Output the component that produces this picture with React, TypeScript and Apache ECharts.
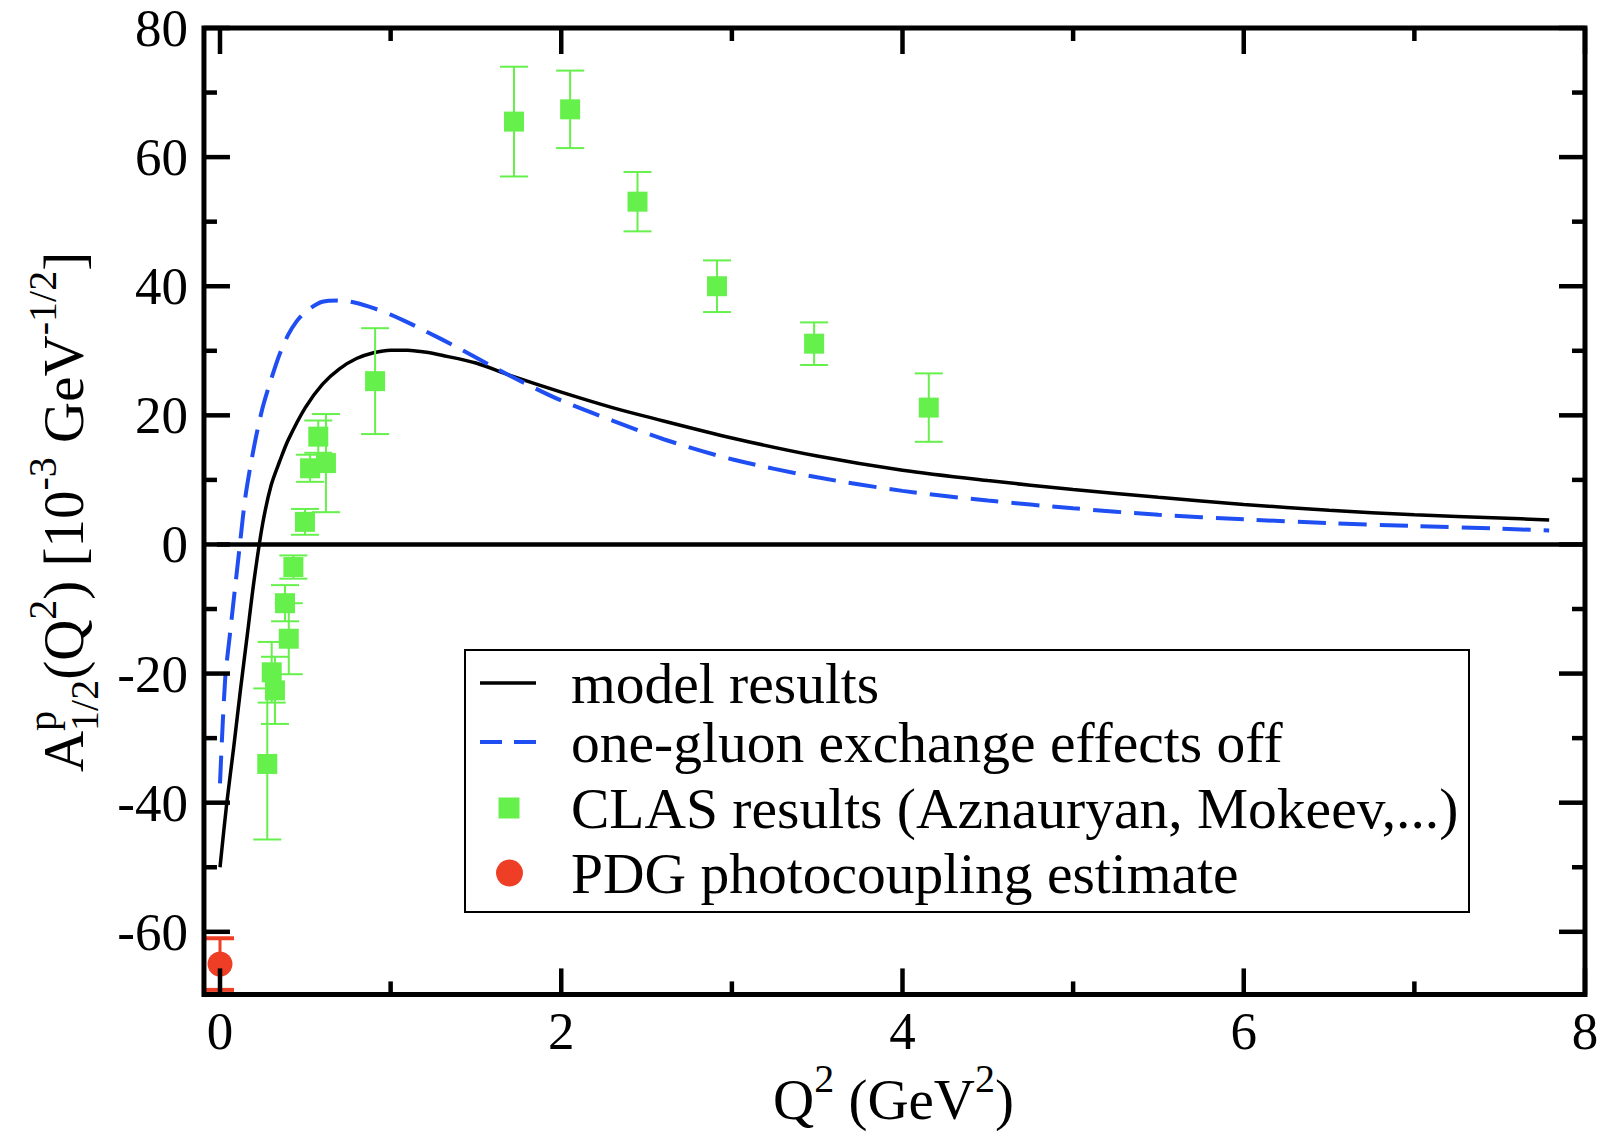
import React, { useEffect, useRef } from "react";
import * as echarts from "echarts";

// ---------- data ----------
const modelQ2 = [0, 0.04, 0.08, 0.12, 0.16, 0.2, 0.25, 0.3, 0.35, 0.4, 0.5, 0.6, 0.7, 0.8, 0.9, 1.0, 1.1, 1.2, 1.3, 1.5, 1.7, 2.0, 2.3, 2.5, 3.0, 3.5, 4.0, 4.5, 5.0, 5.5, 6.0, 6.5, 7.0, 7.5, 7.79];
const modelA = [-50, -40, -31.5, -22.5, -14, -5.5, 3.2, 9.2, 12.9, 16.2, 21.2, 24.8, 27.2, 28.8, 29.7, 30.1, 30.1, 29.8, 29.3, 28.1, 26.2, 23.6, 21.2, 19.8, 16.5, 13.7, 11.5, 9.9, 8.5, 7.3, 6.2, 5.3, 4.6, 4.1, 3.8];

const ogeQ2 = [0, 0.03, 0.06, 0.09, 0.12, 0.15, 0.2, 0.25, 0.3, 0.35, 0.4, 0.45, 0.5, 0.6, 0.7, 0.8, 0.9, 1.0, 1.1, 1.2, 1.4, 1.6, 1.8, 2.0, 2.3, 2.6, 3.0, 3.5, 4.0, 4.5, 5.0, 5.5, 6.0, 6.5, 7.0, 7.5, 7.79];
const ogeA = [-37, -21, -13.5, -6.3, 0.8, 7.6, 15.2, 21.2, 25.6, 29.5, 32.5, 34.6, 36.0, 37.6, 37.8, 37.4, 36.6, 35.6, 34.4, 33.1, 30.4, 27.5, 24.8, 22.3, 19.2, 16.3, 13.2, 10.4, 8.3, 6.8, 5.6, 4.6, 3.9, 3.3, 2.85, 2.45, 2.15];

const clasQ2 = [0.277, 0.303, 0.322, 0.381, 0.403, 0.43, 0.498, 0.528, 0.576, 0.621, 0.909, 1.723, 2.052, 2.447, 2.913, 3.482, 4.154];
const clasA = [-34.0, -19.8, -22.6, -9.1, -14.6, -3.5, 3.5, 11.8, 16.7, 12.6, 25.3, 65.5, 67.4, 53.1, 40.0, 31.1, 21.2];
const clasErr = [11.7, 4.7, 5.2, 2.8, 5.5, 1.8, 2.0, 2.1, 2.5, 7.6, 8.2, 8.5, 6.0, 4.6, 4.0, 3.3, 5.3];

const pdgQ2 = [0];
const pdgA = [-65];
const pdgErr = [4];

// tick values (major ticks carry labels)
const xMajorTicks = [0, 2, 4, 6, 8];
const xMinorTicks = [1, 3, 5, 7];
const yMajorTicks = [-60, -40, -20, 0, 20, 40, 60, 80];
const yMinorTicks = [-50, -30, -10, 10, 30, 50, 70];

// axis ranges: labelled axis range, and the plot frame's full extent
const xMin = 0;
const xMax = 8;
const xStep = 2;
const yMin = -60;
const yMax = 80;
const yStep = 20;
const xFrameMin = -0.094;
const yFrameMin = -69.7;

const legendLabels = [
  "model results",
  "one-gluon exchange effects off",
  "CLAS results (Aznauryan, Mokeev,...)",
  "PDG photocoupling estimate",
];

// ---------- styles ----------
const FONT = '"Liberation Serif", "Times New Roman", Times, serif';
const GREEN = "#66f04c";
const RED = "#ee3f26";
const BLUE = "#1f4ff2";
const MAIN = 57;
const LEG = 57.5;
const SCR = 40;
const SUP = 27;
const SUB = 15;
const CENTRAL = 0.3375;

// layout (pixels)
const GRID_LEFT = 220; // x = 0
const GRID_RIGHT_EDGE = 1585; // x = 8
const GRID_TOP = 28; // y = 80
const GRID_BOTTOM_EDGE = 931.8; // y = -60
const FRAME_LEFT = 204;
const FRAME_BOTTOM = 994.5;
const MAJOR_LEN = 26;
const MINOR_LEN = 13;
const TICK_W = 4.5;

function measure(text: string, size: number): number {
  const c = document.createElement("canvas").getContext("2d");
  if (!c) return text.length * size * 0.5;
  c.font = `${size}px "Liberation Serif"`;
  return c.measureText(text).width;
}

type Piece = { t: string; s: number; dy: number };
function buildRun(segments: Piece[][]) {
  const children: any[] = [];
  let x = 0;
  segments.forEach((seg) => {
    let adv = 0;
    seg.forEach((p) => {
      children.push({
        type: "text",
        x,
        y: p.dy - CENTRAL * p.s,
        style: { text: p.t, fontSize: p.s, fontFamily: FONT, fill: "#000", align: "left", verticalAlign: "middle" },
      });
      adv = Math.max(adv, measure(p.t, p.s));
    });
    x += adv;
  });
  return { children, width: x };
}

function errRender(color: string, lw: number, capLw: number, capW: number) {
  return (params: any, api: any) => {
    const x = api.value(0);
    const lo = api.value(1);
    const hi = api.value(2);
    const pHi = api.coord([x, hi]);
    const pLo = api.coord([x, lo]);
    return {
      type: "group",
      children: [
        { type: "line", shape: { x1: pHi[0], y1: pHi[1], x2: pLo[0], y2: pLo[1] }, style: { stroke: color, lineWidth: lw } },
        { type: "line", shape: { x1: pHi[0] - capW / 2, y1: pHi[1], x2: pHi[0] + capW / 2, y2: pHi[1] }, style: { stroke: color, lineWidth: capLw } },
        { type: "line", shape: { x1: pLo[0] - capW / 2, y1: pLo[1], x2: pLo[0] + capW / 2, y2: pLo[1] }, style: { stroke: color, lineWidth: capLw } },
      ],
    };
  };
}

export default function App() {
  const ref = useRef<HTMLDivElement>(null);
  useEffect(() => {
    if (!ref.current) return;
    const chart = echarts.init(ref.current, undefined, { renderer: "svg" });

    const yTitle = buildRun([
      [{ t: "A", s: MAIN, dy: 0 }],
      [{ t: "p", s: SCR, dy: -SUP }, { t: "1/2", s: SCR, dy: SUB }],
      [{ t: "(Q", s: MAIN, dy: 0 }],
      [{ t: "2", s: SCR, dy: -SUP }],
      [{ t: ") [10", s: MAIN, dy: 0 }],
      [{ t: "-3", s: SCR, dy: -SUP }],
      [{ t: " GeV", s: MAIN, dy: 0 }],
      [{ t: "-1/2", s: SCR, dy: -SUP }],
      [{ t: "]", s: MAIN, dy: 0 }],
    ]);
    const xTitle = buildRun([
      [{ t: "Q", s: MAIN, dy: 0 }],
      [{ t: "2", s: SCR, dy: -SUP }],
      [{ t: " (GeV", s: MAIN, dy: 0 }],
      [{ t: "2", s: SCR, dy: -SUP }],
      [{ t: ")", s: MAIN, dy: 0 }],
    ]);

    const rowsY = [683, 742, 808, 873];
    const legendGraphics: any[] = [
      { type: "rect", z: 100, shape: { x: 465, y: 650, width: 1004, height: 262 }, style: { fill: "#fff", stroke: "#000", lineWidth: 2 } },
      { type: "line", z: 101, shape: { x1: 480, y1: rowsY[0], x2: 536, y2: rowsY[0] }, style: { stroke: "#000", lineWidth: 3.5 } },
      { type: "line", z: 101, shape: { x1: 480, y1: rowsY[1], x2: 536, y2: rowsY[1] }, style: { stroke: BLUE, lineWidth: 4, lineDash: [22, 12] } },
      { type: "rect", z: 101, shape: { x: 498.5, y: rowsY[2] - 10.5, width: 21, height: 21 }, style: { fill: GREEN } },
      { type: "circle", z: 101, shape: { cx: 509.5, cy: rowsY[3], r: 13.5 }, style: { fill: RED } },
      ...legendLabels.map((t, i) => ({
        type: "text",
        z: 101,
        x: 571,
        y: rowsY[i],
        style: { text: t, fontSize: LEG, fontFamily: FONT, fill: "#000", align: "left", verticalAlign: "middle" },
      })),
    ];

    const option: any = {
      animation: false,
      backgroundColor: "#fff",
      grid: {
        left: GRID_LEFT,
        top: GRID_TOP,
        width: GRID_RIGHT_EDGE - GRID_LEFT,
        height: GRID_BOTTOM_EDGE - GRID_TOP,
        show: false,
        containLabel: false,
      },
      xAxis: {
        type: "value",
        min: xMin,
        max: xMax,
        interval: xStep,
        position: "bottom",
        offset: FRAME_BOTTOM - GRID_BOTTOM_EDGE,
        axisLine: { show: false, onZero: false },
        axisTick: { show: false },
        splitLine: { show: false },
        axisLabel: { show: true, fontFamily: FONT, fontSize: 53, color: "#000", margin: 10, showMinLabel: true, showMaxLabel: true, hideOverlap: false },
      },
      yAxis: {
        type: "value",
        min: yMin,
        max: yMax,
        interval: yStep,
        position: "left",
        offset: GRID_LEFT - FRAME_LEFT,
        axisLine: { show: false, onZero: false },
        axisTick: { show: false },
        splitLine: { show: false },
        axisLabel: { show: true, fontFamily: FONT, fontSize: 53, color: "#000", margin: 16, showMinLabel: true, showMaxLabel: true, hideOverlap: false },
      },
      series: [
        {
          type: "line",
          data: [[xFrameMin, 0], [xMax, 0]],
          showSymbol: false,
          clip: false,
          silent: true,
          lineStyle: { color: "#000", width: 4.5 },
          z: 2,
        },
        {
          name: legendLabels[0],
          type: "line",
          data: modelQ2.map((q, i) => [q, modelA[i]]),
          showSymbol: false,
          smooth: 0.3,
          clip: false,
          lineStyle: { color: "#000", width: 3.5 },
          z: 3,
        },
        {
          name: legendLabels[1],
          type: "line",
          data: ogeQ2.map((q, i) => [q, ogeA[i]]),
          showSymbol: false,
          smooth: 0.3,
          clip: false,
          lineStyle: { color: BLUE, width: 4, type: [28, 13] },
          z: 3,
        },
        {
          type: "custom",
          data: clasQ2.map((q, i) => [q, clasA[i] - clasErr[i], clasA[i] + clasErr[i]]),
          encode: { x: 0, y: [1, 2] },
          renderItem: errRender(GREEN, 2, 2, 28),
          clip: false,
          z: 4,
        },
        {
          name: legendLabels[2],
          type: "scatter",
          data: clasQ2.map((q, i) => [q, clasA[i]]),
          symbol: "rect",
          symbolSize: 20,
          clip: false,
          itemStyle: { color: GREEN, opacity: 1 },
          z: 5,
        },
        {
          type: "custom",
          data: pdgQ2.map((q, i) => [q, pdgA[i] - pdgErr[i], pdgA[i] + pdgErr[i]]),
          encode: { x: 0, y: [1, 2] },
          renderItem: errRender(RED, 3, 4, 28),
          clip: false,
          z: 4,
        },
        {
          name: legendLabels[3],
          type: "scatter",
          data: pdgQ2.map((q, i) => [q, pdgA[i]]),
          symbol: "circle",
          symbolSize: 25,
          clip: false,
          itemStyle: { color: RED, opacity: 1 },
          z: 5,
        },
      ],
      graphic: [
        ...legendGraphics,
        { type: "group", x: 83, y: 512 + yTitle.width / 2, rotation: Math.PI / 2, children: yTitle.children },
        { type: "group", x: 773, y: 1119, children: xTitle.children },
      ],
    };
    chart.setOption(option);

    // frame and mirrored inward ticks, placed through the chart's own scales
    const px = (x: number, y: number): number[] => chart.convertToPixel({ gridIndex: 0 }, [x, y]) as number[];
    const tl = px(xFrameMin, yMax);
    const br = px(xMax, yFrameMin);
    const frameEls: any[] = [];
    const addX = (v: number, len: number) => {
      const p = px(v, 0);
      frameEls.push({ type: "rect", z: 60, silent: true, shape: { x: p[0] - TICK_W / 2, y: br[1] - len, width: TICK_W, height: len }, style: { fill: "#000" } });
      frameEls.push({ type: "rect", z: 60, silent: true, shape: { x: p[0] - TICK_W / 2, y: tl[1], width: TICK_W, height: len }, style: { fill: "#000" } });
    };
    const addY = (v: number, len: number) => {
      const p = px(0, v);
      frameEls.push({ type: "rect", z: 60, silent: true, shape: { x: tl[0], y: p[1] - TICK_W / 2, width: len, height: TICK_W }, style: { fill: "#000" } });
      frameEls.push({ type: "rect", z: 60, silent: true, shape: { x: br[0] - len, y: p[1] - TICK_W / 2, width: len, height: TICK_W }, style: { fill: "#000" } });
    };
    xMajorTicks.forEach((v) => addX(v, MAJOR_LEN));
    xMinorTicks.forEach((v) => addX(v, MINOR_LEN));
    yMajorTicks.forEach((v) => addY(v, MAJOR_LEN));
    yMinorTicks.forEach((v) => addY(v, MINOR_LEN));
    frameEls.push({
      type: "rect",
      z: 60,
      silent: true,
      shape: { x: tl[0], y: tl[1], width: br[0] - tl[0], height: br[1] - tl[1] },
      style: { fill: "transparent", stroke: "#000", lineWidth: 5 },
    });

    chart.setOption({
      graphic: [
        ...legendGraphics,
        { type: "group", x: 83, y: 512 + yTitle.width / 2, rotation: Math.PI / 2, children: yTitle.children },
        { type: "group", x: 773, y: 1119, children: xTitle.children },
        ...frameEls,
      ],
    }, { replaceMerge: ["graphic"] });

    return () => chart.dispose();
  }, []);
  return <div ref={ref} style={{ position: "absolute", left: 0, top: 0, width: 1602, height: 1136 }} />;
}
